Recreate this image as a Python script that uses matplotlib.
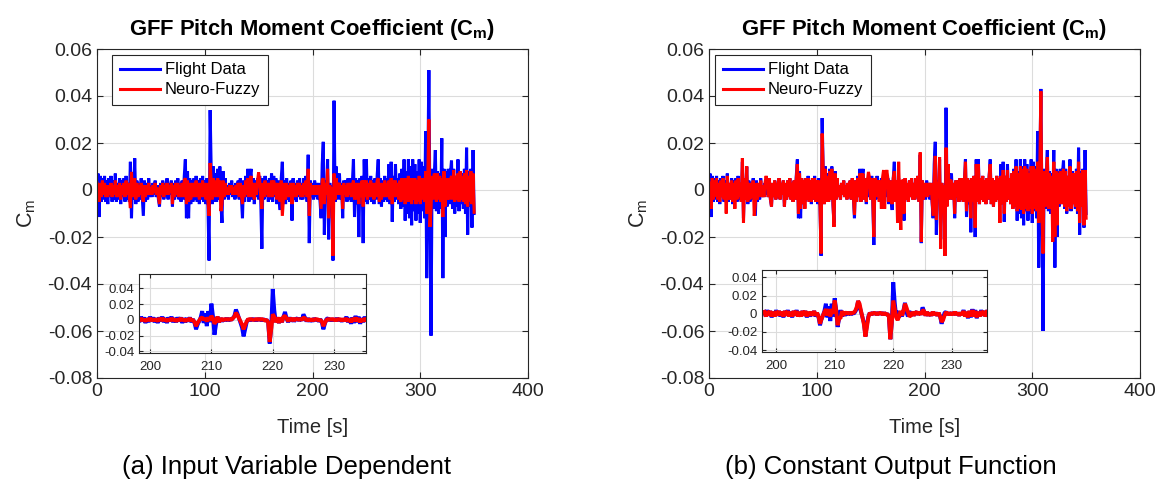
import numpy as np
import matplotlib
matplotlib.use("Agg")
import matplotlib.pyplot as plt
from matplotlib.ticker import FuncFormatter

plt.rcParams['font.family'] = ['Liberation Sans', 'DejaVu Sans']
plt.rcParams['mathtext.fontset'] = 'custom'
plt.rcParams['mathtext.rm'] = 'Liberation Sans'
plt.rcParams['mathtext.bf'] = 'Liberation Sans:bold'

# ---------------- data (C_m values in units of 0.001) ----------------
UNIT = 1e-3

# main plot, one sample per second, t = 0 .. 350 s
flight = [
    2, 7, -11.5, 6, -5, 5, -4, 6, -5, 4,
    -6, 5, -3, 6, -5, 4, -4, 7, -5, 3,
    -4, 5, -6, 4, -3, 5, -5, 6, -4, 3,
    -5, 12, -12, 5, -4, 13.5, -6, 4, -5, 3,
    -4, 5, -3, -11, 4, -5, 3, -4, 5, -3,
    2, -3, 3, -2, 4, -3, 2, -4, -7, 3,
    -3, 4, -4, 3, -3, 5, -4, 3, -2, 4,
    -7, 3, -4, 4, -3, 5, -4, 3, -5, 4,
    -4, 6, 13, -12, 8, -12, 5, -6, 4, -5,
    5, -4, 6, -5, 4, -6, 5, -4, 6, -5,
    4, -6, 5, -7, -30, 34, 8, -6, 10, -5,
    7, -5, 9, -4, 10, -6, -14, 8, -4, 5,
    -3, 2, -4, 3, -2, 4, -3, 2, -4, 3,
    -3, 4, -4, 5, -3, -12, 4, -5, 6, -3,
    9, -5, 6, 9, -4, 5, -6, 4, -3, 5,
    -4, 6, -5, -25, 5, -4, 6, -3, 4, -5,
    5, -4, 7, -5, 6, -3, 5, -6, 4, -4,
    -8.5, 5, 12, -5, 4, -6, 5, -4, 3, -5,
    4, -13, 5, -4, 3, -5, 4, -3, 5, -4,
    3, -4, 5, -3, 6, -5, 15, -22.6, 4, -3,
    3, -4, 4, -3, 3, -4, 3, -5, -12, 11,
    20.5, -19, 4, -3, 13, -21, 3, -2, 2, -30,
    38, -5, 10, -4, 4, 7, -4, 3, -12, 4,
    -3, 4, -5, 5, -4, 5, -5, 3, 13, -11.5,
    5, -6, 4, -20, 5, -5, 6, -22.6, 13, -5,
    13, -6, 5, -4, 6, -5, 4, -6, 5, -4,
    6, 13, -6, 5, -7, 4, -5, 6, -4, 5,
    -5, 11, -6, 12, -13.5, 6, -5, 11, -4, 5,
    -6, 7, -8, 9, -7, 13, -13, 8, -10, 13,
    -12, 10, -15, 13, -9, 11, -13, 8, -10, 13,
    -14, 12, -9, 10, -12, 25, -37.5, 8, 51, -10,
    -62, 9, -8, 6, 17, -9, 8, -10, 7, -8,
    22, -37.5, 9, -20, 8, -7, 9, -6, 7, 12.5,
    -8, 9, -10, 6, -7, 13, -9, 8, -6, 7,
    -8, 9, -10, 18, -19, 8, -7, 9, -16, 17,
    -10,
]

# peak values of the flight data as drawn in panel (b) (second -> value)
flight_b_peaks = {35: 10, 104: -28, 105: 30.6, 153: -23.4, 219: -28, 220: 35,
                  243: -18, 247: -20, 306: -33, 308: 43, 310: -60, 320: 17, 321: -33}

nf_a = [
    3, -2, -5, 3, -3, 4, -2, 3, -3, 2,
    -3, 2, -2, 3, -3, 2, -2, 4, -3, 2,
    -3, 3, -4, 2, -2, 3, -3, 4, -2, 3,
    -3, -7.7, 7.7, -3, 2, 5, -4, 3, -3, 2,
    -2, 3, -3, -5, 2, -3, 2, -2, 3, -2,
    1, -2, 2, -1, 3, -2, 1, -3, -6, 2,
    -2, 3, -3, 2, -2, 3, -2, 2, -1, 3,
    -6, 2, -3, 3, -2, 3, -3, 2, -3, 3,
    -3, 4, 5, -6, 4, -5, 3, -4, 3, -3,
    3, -3, 4, -3, 3, -4, 3, -3, 4, -3,
    3, -4, 3, -5, -11, 11.5, 4, -4, 5, -3,
    4, -3, 5, -3, 4, -9, -6, 4, -3, 3,
    -2, 1, -2, 2, -1, 2, -2, 1, -2, 2,
    -2, 3, -3, 3, -2, -6, 2, -3, 4, -2,
    5, -3, 4, 6, -3, 3, -4, 3, -2, 4,
    7.5, 4, -3, -8, 3, -3, 4, -2, 3, -3,
    3, -3, 4, -3, 4, -2, 3, -4, 3, -3,
    -5, 4, -11, -4, 3, -4, 3, -3, 2, -3,
    3, -6, 3, -3, 2, -3, 3, -2, 3, -3,
    2, -3, 3, -2, 4, -3, 9, -11, 3, -2,
    2, -2, 2, -2, 2, -2, 2, -3, -8, 4,
    5, -6, 3, -2, 9, -12, 2, -1, 1, -28,
    7, -4, 5, -2, 2, 3, -2, 2, -8, 3,
    -2, 2, -3, 3, -2, 3, -3, 2, 4, -4,
    3, -4, 3, -6, 3, -3, 4, -7, 4, -3,
    4, -4, 3, -3, 4, -3, 3, -4, 3, -3,
    4, 5, -5, 3, -4, 3, -3, 4, -3, 3,
    -3, 4, -4, 5, -6, 4, -3, 4, -3, 3,
    -4, 4, -5, 5, -4, 5, -6, 5, -5, 6,
    -5, 5, -6, 5, -4, 5, -6, 4, -5, 6,
    -6, 5, -4, 5, -5, 8, -10, 5, 30, -15.7,
    -8, 6, -4, 7, 5, -5, 7, -4, 6, -5,
    5, -11.5, 8, -7, 5, -4, 5, -4, 4, 6,
    -4, 8.5, -5, 6, -4, 7, -5, 8, -4, 6,
    -5, 7, -6, 8.5, -7, 6, -5, 8, -6, 7,
    -9.5,
]

nf_b = [
    3, -3, -8, 5, -4, 4, -3, 5, -4, 3,
    -5, 4, -3, 5, -4, 3, -10, 6, -4, 3,
    -4, 4, -5, 3, -8, 4, -4, 5, -3, 3,
    -5, 13.6, -14, 5, -4, 10, -5, 3, -4, 3,
    -3, 4, -11, -6, 3, -4, 3, -3, 4, -3,
    2, -3, 3, 6, 3, -3, 5, -4, -7, 3,
    -3, 4, -4, 3, -3, 5, -4, 3, -2, 4,
    -7, 3, -4, 4, -3, 5, -4, 3, -5, 4,
    -4, 5, 11, -10, 7, -8, 5, -6, 4, -8,
    5, -4, 5, -5, 4, -5, 5, -4, 5, -5,
    4, -5, 4, -7, -27, 24, 8, -6, 9, -5,
    6, -5, 8, -4, 9, -5, -15.7, 7, -4, 5,
    -3, 2, -4, 3, -2, 4, -3, 2, -4, 3,
    -3, 4, -4, 5, -3, -10.6, 4, -5, 5, -3,
    7, -5, 6, 7, -4, 5, -5, 4, 7.7, 5,
    -4, 5, -4, -20, 5, 4, -3, 4, -5, 4,
    -8, 5, 8.5, -8, 6, 8.5, 5, -5, 4, -4,
    -6, 5, 8, -5, 4, -14, 12, -5, -17, 4,
    4, -10, 5, -4, 3, -5, 4, -3, 5, -4,
    3, -4, 5, -3, 6, -5, 16, -22, 4, -4,
    3, -3, 3, -3, 3, -2, 3, -4, -11, 5,
    14.5, -12.7, 3, -2, 14, -25, 3, -2, 2, -28,
    18, -7, 11, -4, 4, 4, -4, 3, -10, 4,
    -3, 4, -5, 5, -4, 5, -5, 3, 12, -9,
    5, -5, 4, -12, 5, -5, 6, -16, 11, -5,
    11, -6, 5, -4, 6, -5, 4, -6, 5, -4,
    6, 11, -6, 5, -7, 4, -5, 6, -4, 5,
    -14, 6, -6, 8.5, -10, 6, -5, 8.5, -4, 5,
    -6, 7, -8, 8, -7, 10, -9, 7, -8, 10,
    -8.5, 9, -10, 10, -8, 9, -9, 7, -8, 10,
    -10, 10, -8, 9, -9, 12, -14, 8, 42, -10,
    -27, 8, -7, 6, 14, -8, 7, -8, 6, -22,
    12, -20, 8, -15, 7, -6, 8, -6, 6, 9,
    -7, 8, -9, 6, -7, 10, -8, 7, -6, 7,
    -7, 8, -9, 12, -14, 7, -7, 8.5, -15, 8.5,
    -12,
]

# inset: four samples per second, t = 198.00 .. 236.00 s
inset_start, inset_step = 198.0, 0.25
inset_flight = [
    2, -3, 4, -2,   3, -4, 2, -3,   4, -2, 3, -3,   2, -4, 3, -2,
    4, -3, 2, -4,   3, -2, 4, -3,   2, -3, 3, -2,   3, -4, 2, -3,
    2, -2, 3, -3,   1, -4, -12, -6, -2, 3, 11, -4,  8, -8, 11, -3,
    20.5, 5, -19, -6, 4, -3, 2, -2, 1, -1, 2, -1,   1, 0, 2, 5,
    13, 8, 2, -4,   -10, -21, -12, -3, 1, -1, 1, 0, 1, -1, 1, 0,
    1, -1, 1, -1,   0, -3, -30, -10, 39, 12, -3, 3, -4, 2, -3, 4,
    10, 2, -3, 3,   -2, 2, -2, 1,   2, -1, 2, -1,   7, 3, -2, 2,
    -2, 1, -2, 2,   -1, 1, -2, 1,   -3, -12, -5, 1, 2, -1, 1, -1,
    1, -1, 2, -1,   1, -2, 1, -1,   4, -3, 2, -5,   3, -4, 5, -3,
    4, -5, 2, -3,   4, -2, 3, -3,
    2,
]
inset_flight_b_peaks = {207.5: -12.7, 210.0: 17, 210.5: -14.5, 214.0: 14,
                        215.25: -25, 219.5: -28, 220.0: 34.5, 222.0: 12, 228.25: -11}

inset_nf_a = [
    2, -1, 2, -1,   1, -2, 1, -1,   2, -1, 1, -1,   1, -2, 2, -1,
    2, -1, 1, -2,   1, -1, 2, -1,   1, -2, 1, -1,   2, -1, 1, -2,
    1, -1, 2, -1,   0, -3, -8, -4,  -1, 2, 3, 0,    2, -2, 3, -1,
    5, 2, -5, -2,   4, -3, 2, -1,   1, 0, 1, 0,     1, 0, 2, 4,
    9, 6, 2, -2,    -6, -12, -7, -2, 1, 0, 1, 0,    0, 1, 0, 1,
    0, 1, 0, -1,    0, -3, -28, -12, 7, 4, -3, 3,   -4, 3, -3, 4,
    5, 2, -2, 2,    -1, 2, -1, 1,   1, 0, 1, 0,     3, 2, -1, 1,
    -1, 1, -1, 1,   0, 1, -1, 0,    -2, -8, -4, 0,  1, 0, 1, 0,
    1, -1, 1, 0,    1, -1, 1, -1,   2, -2, 1, -3,   2, -2, 3, -2,
    2, -3, 1, -2,   2, -1, 2, -1,
    1,
]

inset_nf_b = [
    2, -3, 3, -2,   3, -3, 2, -3,   3, -2, 3, -2,   2, -3, 3, -2,
    3, -3, 2, -3,   3, -2, 3, -3,   2, -3, 3, -2,   3, -3, 2, -2,
    2, -2, 3, -2,   1, -3, -11, -6, -2, 2, 5, -2,   5, -3, 5, 0,
    14.5, 4, -12.7, -5, -5, 3, -2, 1, 1, 0, 1, 0,   1, 1, 3, 7,
    14, 11, 3, -4,  -12, -25, -15, -4, 1, -1, 1, 0, 1, -1, 1, 0,
    1, -1, 1, -1,   0, -3, -28, -10, 14.5, 5, -4, -7, -3, 3, -2, 3,
    11, 7, 2, -3,   -2, 2, -2, 1,   2, -1, 2, -1,   4, 3, -2, 2,
    -2, 1, -2, 2,   -1, 1, -2, 1,   -3, -9, -7, -2, 2, -1, 1, -1,
    1, -1, 2, -1,   1, -2, 1, -1,   3, -3, 2, -4,   3, -3, 4, -3,
    3, -4, 2, -3,   3, -2, 3, -3,
    2,
]

series_labels = ['Flight Data', 'Neuro-Fuzzy']
title_text = r'GFF Pitch Moment Coefficient (C$_\mathbf{m}$)'
ylabel_text = r'C$_\mathregular{m}$'
xlabel_text = 'Time [s]'
captions = ['(a) Input Variable Dependent', '(b) Constant Output Function']
main_xticks = [0, 100, 200, 300, 400]
main_yticks = [-0.08, -0.06, -0.04, -0.02, 0, 0.02, 0.04, 0.06]
inset_xticks = [200, 210, 220, 230]
inset_yticks = [-0.04, -0.02, 0, 0.02, 0.04]

# ---------------- assemble ----------------
t_main = np.arange(len(flight))
flight_a_v = np.array(flight, float) * UNIT
flight_b_list = list(flight)
for k, v in flight_b_peaks.items():
    flight_b_list[k] = v
flight_b_v = np.array(flight_b_list, float) * UNIT
nf_a_v = np.array(nf_a, float) * UNIT
nf_b_v = np.array(nf_b, float) * UNIT

t_inset = inset_start + inset_step * np.arange(len(inset_flight))
ins_fa = np.array(inset_flight, float) * UNIT
ins_fb_list = list(inset_flight)
for tk, v in inset_flight_b_peaks.items():
    ins_fb_list[int(round((tk - inset_start) / inset_step))] = v
ins_fb = np.array(ins_fb_list, float) * UNIT
ins_na = np.array(inset_nf_a, float) * UNIT
ins_nb = np.array(inset_nf_b, float) * UNIT

BLUE, RED = '#0000ff', '#ff0000'
AXC = '#262626'
GRIDC = '#dcdcdc'


def yfmt(v, pos):
    if abs(v) < 1e-12:
        return '0'
    return f'{v:.2f}'


def style(ax, fs, ticklen):
    for s in ax.spines.values():
        s.set_color(AXC)
        s.set_linewidth(0.8)
    ax.tick_params(which='both', direction='in', top=True, right=True,
                   length=ticklen, width=0.8, colors=AXC, labelsize=fs,
                   labelcolor=AXC)
    ax.grid(True, color=GRIDC, linewidth=0.8)
    ax.set_axisbelow(True)
    ax.yaxis.set_major_formatter(FuncFormatter(yfmt))


W, H = 1160, 487
fig = plt.figure(figsize=(W / 100, H / 100), dpi=100)

panels = [
    dict(left=97, flight=flight_a_v, nf=nf_a_v, ifl=ins_fa, inf=ins_na,
         inset=(139, 274, 227, 79), ixlim=(198.2, 235.2), iylim=(-0.042, 0.058),
         leg_x=0.035, cap_x=286),
    dict(left=709, flight=flight_b_v, nf=nf_b_v, ifl=ins_fb, inf=ins_nb,
         inset=(762, 270, 225, 82), ixlim=(197.6, 236.0), iylim=(-0.042, 0.048),
         leg_x=0.014, cap_x=891),
]

for i, p in enumerate(panels):
    ax = fig.add_axes([p['left'] / W, 1 - 378 / H, 431 / W, 329 / H])
    style(ax, 14, 4.5)
    ax.plot(t_main, p['flight'], color=BLUE, lw=2.2, solid_joinstyle='bevel',
            label=series_labels[0])
    ax.plot(t_main, p['nf'], color=RED, lw=2.2, solid_joinstyle='bevel',
            label=series_labels[1])
    ax.set_xlim(0, 400)
    ax.set_ylim(-0.08, 0.06)
    ax.set_xticks(main_xticks)
    ax.set_yticks(main_yticks)
    ax.set_title(title_text, fontsize=15.8, fontweight='bold', color='black', pad=10)
    ax.set_xlabel(xlabel_text, fontsize=14.5, color=AXC)
    ax.xaxis.set_label_coords(0.5, -0.122)
    ax.set_ylabel(ylabel_text, fontsize=15.5, color=AXC)
    ax.yaxis.set_label_coords(-0.137, 0.5)
    leg = ax.legend(loc='upper left', bbox_to_anchor=(p['leg_x'], 0.982),
                    borderaxespad=0, fontsize=12, frameon=True, fancybox=False,
                    edgecolor=AXC, framealpha=1, handlelength=2.4,
                    handletextpad=0.3, borderpad=0.45, labelspacing=0.3)
    leg.get_frame().set_linewidth(0.8)

    ix, iy, iw, ih = p['inset']
    ia = fig.add_axes([ix / W, 1 - (iy + ih) / H, iw / W, ih / H])
    style(ia, 9.5, 3)
    ia.set_facecolor('white')
    ia.plot(t_inset, p['ifl'], color=BLUE, lw=2.8, solid_joinstyle='bevel')
    ia.plot(t_inset, p['inf'], color=RED, lw=2.8, solid_joinstyle='bevel')
    ia.set_xlim(*p['ixlim'])
    ia.set_ylim(*p['iylim'])
    ia.set_xticks(inset_xticks)
    ia.set_yticks(inset_yticks)
    ia.tick_params(axis='x', pad=6)

    fig.text(p['cap_x'] / W, 1 - 467 / H, captions[i],
             fontsize=18.5, ha='center', va='center', color='black')

fig.savefig('out.png', dpi=100)
